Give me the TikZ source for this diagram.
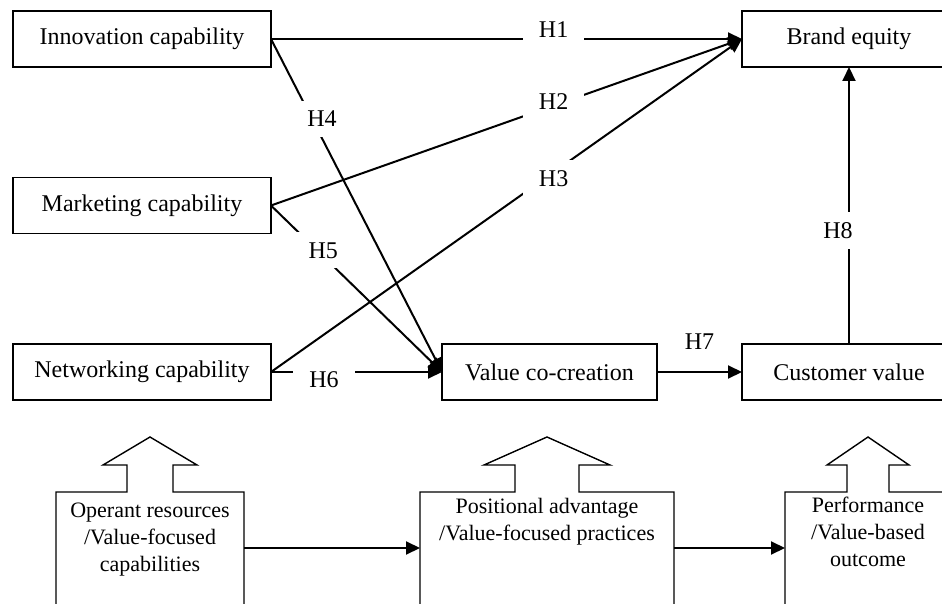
\documentclass[tikz,border=0pt]{standalone}
\usepackage{fontspec}
\setmainfont{Liberation Serif}
\usetikzlibrary{arrows.meta,positioning,calc}

\begin{document}
\begin{tikzpicture}[
    x=0.5pt, y=-0.5pt,
    font=\fontsize{12}{14.4}\selectfont,
    >={Triangle[length=7pt,width=6.5pt]},
    flow/.style={->, line width=1pt},
    block/.style={
        draw,
        line width=0.8pt,
        minimum height=28pt,
        inner sep=2pt,
        outer sep=0pt
    },
    leftbox/.style={
        block,
        minimum width=129pt
    },
    rightbox/.style={
        block,
        minimum width=107pt
    },
    body/.style={
        minimum height=56pt,
        inner sep=0pt,
        outer sep=0pt
    },
    outline/.style={line width=0.7pt},
    note/.style={
        align=center,
        inner sep=1pt,
        font=\fontsize{11}{13.5}\selectfont
    },
    hyp/.style={
        fill=white,
        inner xsep=8pt,
        inner ysep=5pt
    }
]
\useasboundingbox (0,0) rectangle (942,604);
\clip (0,0) rectangle (942,604);

% Capabilities and outcomes
\node[leftbox] (innov) at (142,39) {Innovation capability};
\node[leftbox] (market) at (142,205.5) {Marketing capability};
\node[leftbox] (network) at (142,372) {Networking capability};

\node[block, minimum width=107.5pt] (cocreate) at (549.5,372) {Value co-creation};

\node[rightbox] (brand) at (849,39) {Brand equity};
\node[rightbox] (custval) at (849,372) {Customer value};

% Hypotheses
\draw[flow] (innov.east) -- node[hyp, pos=0.6, yshift=4.5pt] {H1} (brand.west);
\draw[flow] (market.east) -- node[hyp, pos=0.6, yshift=2pt] {H2} (brand.west);
\draw[flow] (network.east) -- node[hyp, pos=0.6, yshift=-3pt] {H3} (brand.west);

\draw[flow] (innov.east) -- node[hyp, pos=0.24, xshift=5pt] {H4} (cocreate.west);
\draw[flow] (market.east) -- node[hyp, pos=0.27, xshift=3pt] {H5} (cocreate.west);
\draw[flow] (network.east) -- node[hyp, pos=0.31, yshift=-4pt] {H6} (cocreate.west);

\draw[flow] (cocreate) -- node[midway, yshift=15pt] {H7} (custval);
\draw[flow] (custval) -- node[hyp, pos=0.41, xshift=-5.5pt] {H8} (brand);

% Theory boxes
\node[body, minimum width=94pt] (opbody) at (150,548) {};
\node[body, minimum width=127pt] (pabody) at (547,548) {};
\node[body, minimum width=83pt] (pfbody) at (868,548) {};

\foreach \b/\s/\w in {opbody/23/47, pabody/32/63, pfbody/21/41}
    \draw[outline] (\b.south west) -- (\b.north west)
        -- ($(\b.north)+(-\s,0)$) -- ++(0,-27) -- ++(\s-\w,0)
        -- ($(\b.north)+(0,-55)$) -- ($(\b.north)+(\w,-27)$)
        -- ++(\s-\w,0) -- ($(\b.north)+(\s,0)$)
        -- (\b.north east) -- (\b.south east);

\node[note] (optext) at (150,540) {Operant resources\\/Value-focused\\capabilities};
\node[note] (patext) at (547,522) {Positional advantage\\/Value-focused practices};
\node[note] (pftext) at (868,532) {Performance\\/Value-based\\outcome};

\draw[flow] (opbody) -- (pabody);
\draw[flow] (pabody) -- (pfbody);

\end{tikzpicture}
\end{document}
